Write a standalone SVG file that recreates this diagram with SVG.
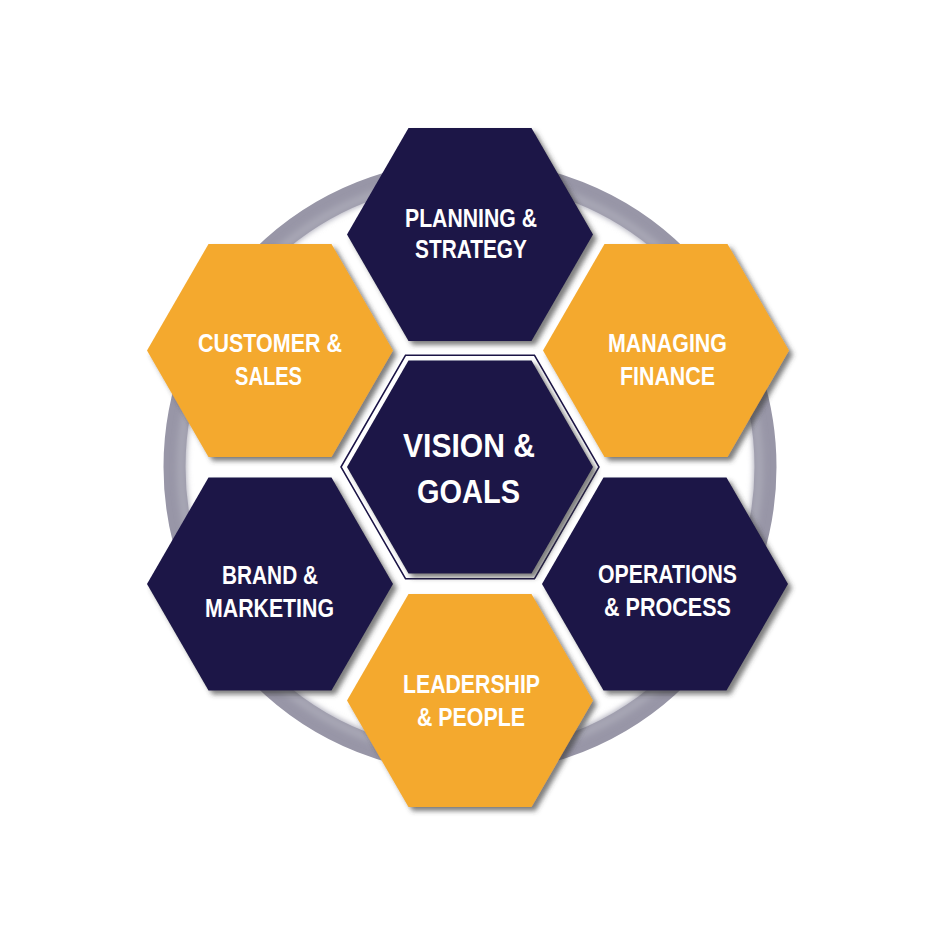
<svg xmlns="http://www.w3.org/2000/svg" width="935" height="935" viewBox="0 0 935 935">
  <style>
    .navy { fill: #1b1446; }
    .orange { fill: #f4a92f; }
    .lbl { fill: #ffffff; font-family: "Liberation Sans", Arial, sans-serif; font-weight: bold; font-size: 25px; text-anchor: middle; }
    .big { font-size: 34px; }
  </style>
  <defs>
    <polygon id="hex" points="-123,0 -61.5,-106.5 61.5,-106.5 123,0 61.5,106.5 -61.5,106.5"/>
    <filter id="sh" x="-20%" y="-20%" width="140%" height="140%">
      <feDropShadow dx="4" dy="4" stdDeviation="2.5" flood-color="#3a3a3a" flood-opacity="0.65"/>
    </filter>
    <filter id="ringsh" x="-10%" y="-10%" width="120%" height="120%">
      <feGaussianBlur stdDeviation="3"/>
    </filter>
  </defs>
  <rect width="935" height="935" fill="#ffffff"/>

  <g id="connectors">
    <circle cx="470" cy="467" r="288" fill="none" stroke="#d6d5dc" stroke-width="8" filter="url(#ringsh)"/>
    <circle cx="470" cy="467" r="295.5" fill="none" stroke="#9896a7" stroke-width="22"/>
    <circle cx="470" cy="467" r="289" fill="none" stroke="#a9a8b6" stroke-width="8" filter="url(#ringsh)"/>
  </g>

  <g id="vision">
    <polygon points="341,467 405.5,355.3 534.5,355.3 599,467 534.5,578.7 405.5,578.7" fill="#ffffff" stroke="#1b1446" stroke-width="1.5"/>
    <use href="#hex" class="navy" transform="translate(470,467)" filter="url(#sh)"/>
    <text class="lbl big" x="469" y="457" textLength="132" lengthAdjust="spacingAndGlyphs">VISION &amp;</text>
    <text class="lbl big" x="468.5" y="503" textLength="103" lengthAdjust="spacingAndGlyphs">GOALS</text>
  </g>

  <g id="planning">
    <use href="#hex" class="navy" transform="translate(470,234.5)" filter="url(#sh)"/>
    <text class="lbl" x="471" y="227" textLength="132" lengthAdjust="spacingAndGlyphs">PLANNING &amp;</text>
    <text class="lbl" x="471" y="258" textLength="112" lengthAdjust="spacingAndGlyphs">STRATEGY</text>
  </g>

  <g id="customer">
    <use href="#hex" class="orange" transform="translate(270,350.5)" filter="url(#sh)"/>
    <text class="lbl" x="270" y="352" textLength="144" lengthAdjust="spacingAndGlyphs">CUSTOMER &amp;</text>
    <text class="lbl" x="268.5" y="385" textLength="67" lengthAdjust="spacingAndGlyphs">SALES</text>
  </g>

  <g id="finance">
    <use href="#hex" class="orange" transform="translate(666,350.5)" filter="url(#sh)"/>
    <text class="lbl" x="667.5" y="352" textLength="119" lengthAdjust="spacingAndGlyphs">MANAGING</text>
    <text class="lbl" x="667.5" y="385" textLength="95" lengthAdjust="spacingAndGlyphs">FINANCE</text>
  </g>

  <g id="brand">
    <use href="#hex" class="navy" transform="translate(270,584)" filter="url(#sh)"/>
    <text class="lbl" x="270" y="584" textLength="96" lengthAdjust="spacingAndGlyphs">BRAND &amp;</text>
    <text class="lbl" x="269.5" y="617" textLength="129" lengthAdjust="spacingAndGlyphs">MARKETING</text>
  </g>

  <g id="operations">
    <use href="#hex" class="navy" transform="translate(665,584)" filter="url(#sh)"/>
    <text class="lbl" x="667.5" y="583" textLength="139" lengthAdjust="spacingAndGlyphs">OPERATIONS</text>
    <text class="lbl" x="667.5" y="616" textLength="127" lengthAdjust="spacingAndGlyphs">&amp; PROCESS</text>
  </g>

  <g id="leadership">
    <use href="#hex" class="orange" transform="translate(470,700.5)" filter="url(#sh)"/>
    <text class="lbl" x="471.5" y="693" textLength="137" lengthAdjust="spacingAndGlyphs">LEADERSHIP</text>
    <text class="lbl" x="471" y="726" textLength="108" lengthAdjust="spacingAndGlyphs">&amp; PEOPLE</text>
  </g>
</svg>
